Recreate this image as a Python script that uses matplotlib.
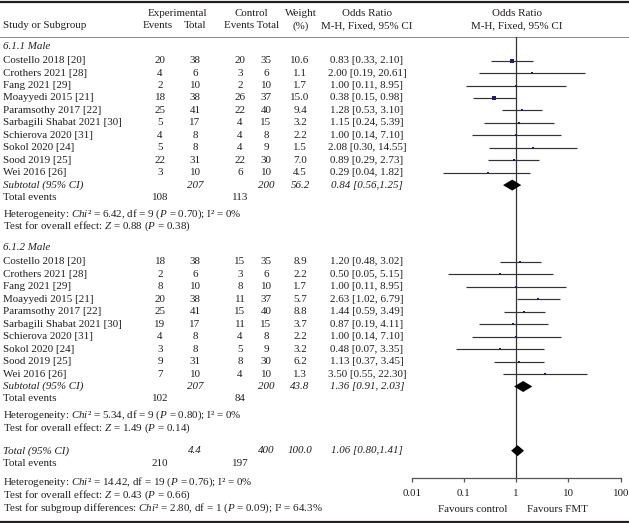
import matplotlib
matplotlib.use("Agg")
import matplotlib.pyplot as plt
import numpy as np

# --- data ---
studies = ["Costello 2018 [20]", "Crothers 2021 [28]", "Fang 2021 [29]", "Moayyedi 2015 [21]",
           "Paramsothy 2017 [22]", "Sarbagili Shabat 2021 [30]", "Schierova 2020 [31]",
           "Sokol 2020 [24]", "Sood 2019 [25]", "Wei 2016 [26]"]

g1_exp_events = [20, 4, 2, 18, 25, 5, 4, 5, 22, 3]
g1_exp_total = [38, 6, 10, 38, 41, 17, 8, 8, 31, 10]
g1_ctl_events = [20, 3, 2, 26, 22, 4, 4, 4, 22, 6]
g1_ctl_total = [35, 6, 10, 37, 40, 15, 8, 9, 30, 10]
g1_weight = [10.6, 1.1, 1.7, 15.0, 9.4, 3.2, 2.2, 1.5, 7.0, 4.5]
g1_or = [0.83, 2.00, 1.00, 0.38, 1.28, 1.15, 1.00, 2.08, 0.89, 0.29]
g1_lo = [0.33, 0.19, 0.11, 0.15, 0.53, 0.24, 0.14, 0.30, 0.29, 0.04]
g1_hi = [2.10, 20.61, 8.95, 0.98, 3.10, 5.39, 7.10, 14.55, 2.73, 1.82]

g2_exp_events = [18, 2, 8, 20, 25, 19, 4, 3, 9, 7]
g2_exp_total = [38, 6, 10, 38, 41, 17, 8, 8, 31, 10]
g2_ctl_events = [15, 3, 8, 11, 15, 11, 4, 5, 8, 4]
g2_ctl_total = [35, 6, 10, 37, 40, 15, 8, 9, 30, 10]
g2_weight = [8.9, 2.2, 1.7, 5.7, 8.8, 3.7, 2.2, 3.2, 6.2, 1.3]
g2_or = [1.20, 0.50, 1.00, 2.63, 1.44, 0.87, 1.00, 0.48, 1.13, 3.50]
g2_lo = [0.48, 0.05, 0.11, 1.02, 0.59, 0.19, 0.14, 0.07, 0.37, 0.55]
g2_hi = [3.02, 5.15, 8.95, 6.79, 3.49, 4.11, 7.10, 3.35, 3.45, 22.30]

# subtotal: exp total, ctl total, weight, or, lo, hi, ci text, exp events, ctl events
g1_sub = ["207", "200", "56.2", 0.84, 0.56, 1.25, "0.84 [0.56,1.25]", "108", "113"]
g2_sub = ["207", "200", "43.8", 1.36, 0.91, 2.03, "1.36 [0.91, 2.03]", "102", "84"]
all_sub = ["4.4", "400", "100.0", 1.06, 0.80, 1.41, "1.06 [0.80,1.41]", "210", "197"]

g1_het = "Heterogeneity: $\\mathit{Chi}$² = 6.42, df = 9 ($\\mathit{P}$ = 0.70); I² = 0%"
g1_test = "Test for overall effect: $\\mathit{Z}$ = 0.88 ($\\mathit{P}$ = 0.38)"
g2_het = "Heterogeneity: $\\mathit{Chi}$² = 5.34, df = 9 ($\\mathit{P}$ = 0.80); I² = 0%"
g2_test = "Test for overall effect: $\\mathit{Z}$ = 1.49 ($\\mathit{P}$ = 0.14)"
all_het = "Heterogeneity: $\\mathit{Chi}$² = 14.42, df = 19 ($\\mathit{P}$ = 0.76); I² = 0%"
all_test = "Test for overall effect: $\\mathit{Z}$ = 0.43 ($\\mathit{P}$ = 0.66)"
all_sg = "Test for subgroup differences: $\\mathit{Chi}$² = 2.80, df = 1 ($\\mathit{P}$ = 0.09); I² = 64.3%"

ticks = [0.01, 0.1, 1, 10, 100]
tick_labels = ["0.01", "0.1", "1", "10", "100"]

FONT = "Liberation Serif"
plt.rcParams['font.family'] = FONT
plt.rcParams['mathtext.fontset'] = 'custom'
plt.rcParams['mathtext.rm'] = FONT
plt.rcParams['mathtext.it'] = FONT + ':italic'
FS = 7.9
TXT = "#231f20"
W, H = 629, 523

fig = plt.figure(figsize=(W / 100, H / 100), dpi=100)
ax = fig.add_axes([0, 0, 1, 1])
ax.set_xlim(0, W)
ax.set_ylim(H, 0)
ax.axis("off")

# forest panel, y in pixel rows so it lines up with the table
AX_TOP, AX_BOT = 36.5, 477.5
X0, X1 = 411.7, 620.7
fax = fig.add_axes([X0 / W, 1 - AX_BOT / H, (X1 - X0) / W, (AX_BOT - AX_TOP) / H])
fax.set_xscale("log")
fax.set_xlim(0.01, 100)
fax.set_ylim(AX_BOT, AX_TOP)
fax.patch.set_alpha(0)
for s in ["top", "left", "right"]:
    fax.spines[s].set_visible(False)
fax.spines["bottom"].set_color("#555555")
fax.spines["bottom"].set_linewidth(0.9)
fax.set_yticks([])
fax.set_xticks(ticks)
fax.set_xticklabels(tick_labels)
fax.minorticks_off()
fax.tick_params(axis="x", direction="out", length=3, width=0.9, color="#555555",
                labelsize=FS, labelcolor=TXT, pad=5)
fax.axvline(1, color="#333333", lw=0.9)

# column x centres
C_EE, C_ET, C_CE, C_CT, C_W, C_CI = 160, 195, 240, 266, 300, 367


def t(x, y, s, ha="center", italic=False, **kw):
    ax.text(x, y, s, ha=ha, va="center", fontsize=FS, color=TXT,
            style="italic" if italic else "normal", **kw)


def diamond(est, lo, hi, y, h=5.5):
    fax.fill([lo, est, hi, est], [y, y - h, y, y + h], color="black", lw=0, zorder=3)


# header
ax.axhline(2, color="#231f20", lw=1.6)
ax.plot([0, W], [36.5, 36.5], color="#888888", lw=0.7)
t(3, 26, "Study or Subgroup", ha="left")
t(177, 13, "Experimental")
t(158, 26, "Events")
t(195, 26, "Total")
t(251, 13, "Control")
t(252, 26, "Events Total")
t(301, 13, "Weight")
t(301, 26, "(%)")
t(C_CI, 13, "Odds Ratio")
t(C_CI, 26, "M-H, Fixed, 95% CI")
t(516.7, 13, "Odds Ratio")
t(516.7, 26, "M-H, Fixed, 95% CI")


def group(label, y0, ee, et, ce, ct, w, orr, lo, hi, sub, het, test, step=12.45):
    t(3, y0, label, ha="left", italic=True)
    ys = y0 + 14.3 + step * np.arange(len(studies))
    for i, y in enumerate(ys):
        t(3, y, studies[i], ha="left")
        t(C_EE, y, str(ee[i]))
        t(C_ET, y, str(et[i]))
        t(C_CE, y, str(ce[i]))
        t(C_CT, y, str(ct[i]))
        t(C_W, y, f"{w[i]:.1f}")
        t(C_CI, y, f"{orr[i]:.2f} [{lo[i]:.2f}, {hi[i]:.2f}]")
        fax.plot([lo[i], hi[i]], [y, y], color="#333333", lw=0.85, solid_capstyle="butt")
        sz = (1.4 + 0.16 * w[i]) * 0.72
        fax.scatter([orr[i]], [y], marker="s", s=sz ** 2, color="#1c1c78", lw=0, zorder=3)
    ys_sub = ys[-1] + step
    t(3, ys_sub, "Subtotal (95% CI)", ha="left", italic=True)
    t(C_ET, ys_sub, sub[0], italic=True)
    t(C_CT, ys_sub, sub[1], italic=True)
    t(C_W, ys_sub, sub[2], italic=True)
    t(C_CI, ys_sub, sub[6], italic=True)
    diamond(sub[3], sub[4], sub[5], ys_sub)
    ys_ev = ys_sub + step
    t(3, ys_ev, "Total events", ha="left")
    t(C_EE, ys_ev, sub[7])
    t(C_CE, ys_ev, sub[8])
    t(3, ys_ev + 16.5, het, ha="left")
    t(3, ys_ev + 29, test, ha="left")


group("6.1.1 Male", 46.3, g1_exp_events, g1_exp_total, g1_ctl_events, g1_ctl_total,
      g1_weight, g1_or, g1_lo, g1_hi, g1_sub, g1_het, g1_test)
group("6.1.2 Male", 247.7, g2_exp_events, g2_exp_total, g2_ctl_events, g2_ctl_total,
      g2_weight, g2_or, g2_lo, g2_hi, g2_sub, g2_het, g2_test)

# overall
y_tot = 450.7
t(3, y_tot, "Total (95% CI)", ha="left", italic=True)
t(C_ET, y_tot, all_sub[0], italic=True)
t(C_CT, y_tot, all_sub[1], italic=True)
t(C_W, y_tot, all_sub[2], italic=True)
t(C_CI, y_tot, all_sub[6], italic=True)
diamond(all_sub[3], all_sub[4], all_sub[5], y_tot)
t(3, 463, "Total events", ha="left")
t(C_EE, 463, all_sub[7])
t(C_CE, 463, all_sub[8])
t(3, 482.7, all_het, ha="left")
t(3, 495.2, all_test, ha="left")
t(3, 507.8, all_sg, ha="left")

t(507, 509, "Favours control", ha="right")
t(527, 509, "Favours FMT", ha="left")

ax.axhline(521.5, color="#231f20", lw=1.6)

fig.savefig("out.png", dpi=100)
